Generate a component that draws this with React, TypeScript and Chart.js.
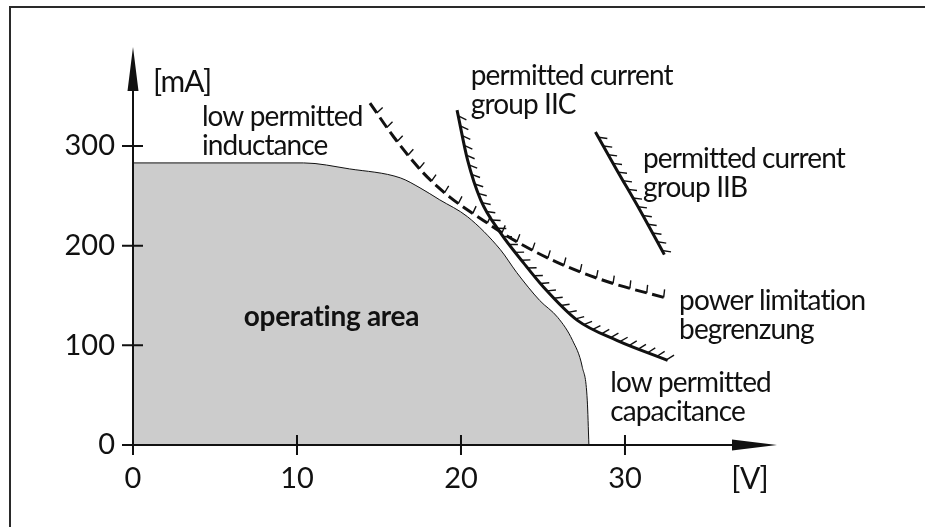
import { useEffect, useRef } from "react";
import { Chart, registerables } from "chart.js";

Chart.register(...registerables);

// ---- axis ticks ----
const xTickValues = [0, 10, 20, 30];
const yTickValues = [0, 100, 200, 300];
const xMax = 39.27;
const yMax = 399.3;

// ---- operating area boundary [V] / [mA] ----
const areaVolts = [0, 10.4, 13.2, 16.3, 17.5, 18.7, 20.4, 22.4, 23.4, 24.8, 25.9, 26.8, 27.4, 27.7, 27.8];
const areaCurrent = [283, 283, 277, 268, 258, 246, 229, 196, 173, 145, 128, 105, 78, 45, 0];

// ---- power limitation (dashed) ----
const powerVolts = [14.45, 15.9, 17.7, 19.3, 21.3, 23.4, 25.9, 28.9, 32.6];
const powerCurrent = [343, 309, 273, 249, 226, 204, 183, 164, 147];

// ---- permitted current group IIC ----
const iicVolts = [19.76, 20.4, 21.2, 22.4, 23.8, 25.0, 27.1, 29.5, 32.6];
const iicCurrent = [336, 286, 246, 213, 183, 159, 125, 105, 85];

// ---- permitted current group IIB ----
const iibVolts = [28.2, 29.5, 30.9, 32.4];
const iibCurrent = [314, 276, 236, 191];

// ---- annotations (text, anchor in data units) ----
const notes = [
  { lines: ["[mA]"], v: 1.22, ma: 354, align: "left", bold: false, size: 30 },
  { lines: ["low permitted", "inductance"], v: 4.2, ma: 320, align: "left", bold: false, size: 28 },
  { lines: ["permitted current", "group IIC"], v: 20.6, ma: 361, align: "left", bold: false, size: 28 },
  { lines: ["permitted current", "group IIB"], v: 31.1, ma: 278, align: "left", bold: false, size: 28 },
  { lines: ["power limitation", "begrenzung"], v: 33.3, ma: 135.5, align: "left", bold: false, size: 28 },
  { lines: ["low permitted", "capacitance"], v: 29.1, ma: 53, align: "left", bold: false, size: 28 },
  { lines: ["operating area"], v: 12.1, ma: 119, align: "center", bold: true, size: 28 },
  { lines: ["[V]"], v: 37.6, ma: -44, align: "center", bold: false, size: 30 },
];

const FONT = "Lato, 'Open Sans', sans-serif";
const INK = "#111111";

const toPts = (xs: number[], ys: number[]) => xs.map((x, i) => ({ x, y: ys[i] }));

function sampleCurve(pts: any[]) {
  const out: { x: number; y: number }[] = [];
  for (let i = 0; i < pts.length - 1; i++) {
    const p0 = pts[i];
    const p1 = pts[i + 1];
    const c1x = p0.cp2x ?? p0.x, c1y = p0.cp2y ?? p0.y;
    const c2x = p1.cp1x ?? p1.x, c2y = p1.cp1y ?? p1.y;
    const N = 40;
    for (let k = i === 0 ? 0 : 1; k <= N; k++) {
      const t = k / N, u = 1 - t;
      out.push({
        x: u * u * u * p0.x + 3 * u * u * t * c1x + 3 * u * t * t * c2x + t * t * t * p1.x,
        y: u * u * u * p0.y + 3 * u * u * t * c1y + 3 * u * t * t * c2y + t * t * t * p1.y,
      });
    }
  }
  return out;
}

function drawHatches(ctx: CanvasRenderingContext2D, pts: any[], spacing: number, start: number, len: number, lean: number) {
  const poly = sampleCurve(pts);
  let next = start;
  let acc = 0;
  ctx.beginPath();
  for (let i = 0; i < poly.length - 1; i++) {
    const dx = poly[i + 1].x - poly[i].x;
    const dy = poly[i + 1].y - poly[i].y;
    const seg = Math.hypot(dx, dy);
    if (seg === 0) continue;
    const tx = dx / seg, ty = dy / seg;
    const nx = ty, ny = -tx; // outer side (upper right)
    while (acc + seg >= next) {
      const f = (next - acc) / seg;
      const px = poly[i].x + dx * f;
      const py = poly[i].y + dy * f;
      const hx = nx + tx * lean;
      const hy = ny + ty * lean;
      const hl = Math.hypot(hx, hy);
      ctx.moveTo(px, py);
      ctx.lineTo(px + (hx / hl) * len, py + (hy / hl) * len);
      next += spacing;
    }
    acc += seg;
  }
  ctx.stroke();
}

const decorPlugin = {
  id: "decor",
  beforeDraw(chart: any) {
    const ctx = chart.ctx;
    ctx.save();
    ctx.fillStyle = "#ffffff";
    ctx.fillRect(0, 0, chart.width, chart.height);
    ctx.fillStyle = "#2a2a2a";
    ctx.fillRect(9, 6, chart.width - 9, 2);
    ctx.fillRect(9, 6, 2, chart.height - 6);
    ctx.restore();
  },
  afterDatasetsDraw(chart: any) {
    const ctx: CanvasRenderingContext2D = chart.ctx;
    const xs = chart.scales.x;
    const ys = chart.scales.y;
    const { right, top } = chart.chartArea;
    const x0 = xs.getPixelForValue(0);
    const y0 = ys.getPixelForValue(0);
    ctx.save();

    // hatches
    ctx.strokeStyle = INK;
    ctx.lineWidth = 1.4;
    ctx.lineCap = "butt";
    drawHatches(ctx, chart.getDatasetMeta(1).data, 17.5, 12, 8, -0.15);
    drawHatches(ctx, chart.getDatasetMeta(2).data, 10, 6, 9, 0.75);
    drawHatches(ctx, chart.getDatasetMeta(3).data, 10, 6, 9, 0.75);

    // axes
    ctx.lineWidth = 2;
    ctx.strokeStyle = INK;
    ctx.fillStyle = INK;
    ctx.beginPath();
    ctx.moveTo(x0, y0);
    ctx.lineTo(right - 40, y0);
    ctx.moveTo(x0, y0);
    ctx.lineTo(x0, top + 40);
    ctx.stroke();
    ctx.beginPath();
    ctx.moveTo(right, y0);
    ctx.lineTo(right - 45, y0 - 5.5);
    ctx.lineTo(right - 45, y0 + 5.5);
    ctx.closePath();
    ctx.fill();
    ctx.beginPath();
    ctx.moveTo(x0, top);
    ctx.lineTo(x0 - 5.5, top + 44);
    ctx.lineTo(x0 + 5.5, top + 44);
    ctx.closePath();
    ctx.fill();

    // tick marks crossing the axes
    ctx.beginPath();
    xTickValues.forEach((v) => {
      const px = xs.getPixelForValue(v);
      ctx.moveTo(px, y0 - 10);
      ctx.lineTo(px, y0 + 10);
    });
    yTickValues.forEach((v) => {
      const py = ys.getPixelForValue(v);
      ctx.moveTo(x0 - 11, py);
      ctx.lineTo(x0 + 10, py);
    });
    ctx.stroke();

    // annotations
    ctx.fillStyle = INK;
    ctx.textBaseline = "alphabetic";
    notes.forEach((n) => {
      ctx.font = (n.bold ? "bold " : "") + n.size + "px " + FONT;
      (ctx as any).letterSpacing = n.bold ? "-0.3px" : "-0.9px";
      ctx.textAlign = n.align as CanvasTextAlign;
      const px = xs.getPixelForValue(n.v);
      const py = ys.getPixelForValue(n.ma);
      n.lines.forEach((line, i) => ctx.fillText(line, px, py + i * 29));
    });
    ctx.restore();
  },
};

export default function App() {
  const ref = useRef<HTMLCanvasElement | null>(null);
  useEffect(() => {
    if (!ref.current) return;
    const tickFont = { family: FONT, size: 29 };
    const chart = new Chart(ref.current, {
      type: "line",
      data: {
        datasets: [
          {
            label: "operating area",
            data: toPts(areaVolts, areaCurrent),
            fill: "origin",
            backgroundColor: "#cccccc",
            borderColor: INK,
            borderWidth: 1,
            pointRadius: 0,
            cubicInterpolationMode: "monotone",
          },
          {
            label: "power limitation",
            data: toPts(powerVolts, powerCurrent),
            fill: false,
            borderColor: INK,
            borderWidth: 3,
            borderDash: [12, 5.5],
            pointRadius: 0,
            cubicInterpolationMode: "monotone",
          },
          {
            label: "permitted current group IIC",
            data: toPts(iicVolts, iicCurrent),
            fill: false,
            borderColor: INK,
            borderWidth: 3,
            pointRadius: 0,
            cubicInterpolationMode: "monotone",
          },
          {
            label: "permitted current group IIB",
            data: toPts(iibVolts, iibCurrent),
            fill: false,
            borderColor: INK,
            borderWidth: 3,
            pointRadius: 0,
            cubicInterpolationMode: "monotone",
          },
        ],
      },
      options: {
        animation: false,
        responsive: false,
        events: [],
        layout: { padding: { left: 40, top: 47, right: 148, bottom: 20 } },
        plugins: { legend: { display: false }, tooltip: { enabled: false } },
        scales: {
          x: {
            type: "linear",
            min: 0,
            max: xMax,
            grid: { display: false, drawTicks: false },
            border: { display: false },
            ticks: { font: tickFont, color: INK, padding: 16, autoSkip: false, maxRotation: 0 },
            afterBuildTicks: (s: any) => {
              s.ticks = xTickValues.map((v) => ({ value: v }));
            },
            afterFit: (s: any) => {
              s.height = 527 - 445 - 20;
            },
          },
          y: {
            type: "linear",
            min: 0,
            max: yMax,
            grid: { display: false, drawTicks: false },
            border: { display: false },
            ticks: { font: tickFont, color: INK, padding: 18, autoSkip: false },
            afterBuildTicks: (s: any) => {
              s.ticks = yTickValues.map((v) => ({ value: v }));
            },
            afterFit: (s: any) => {
              s.width = 133 - 40;
            },
          },
        },
      },
      plugins: [decorPlugin],
    } as any);
    return () => chart.destroy();
  }, []);
  return (
    <div style={{ position: "fixed", left: 0, top: 0, width: 925, height: 527 }}>
      <canvas ref={ref} width={925} height={527} style={{ display: "block" }} />
    </div>
  );
}
